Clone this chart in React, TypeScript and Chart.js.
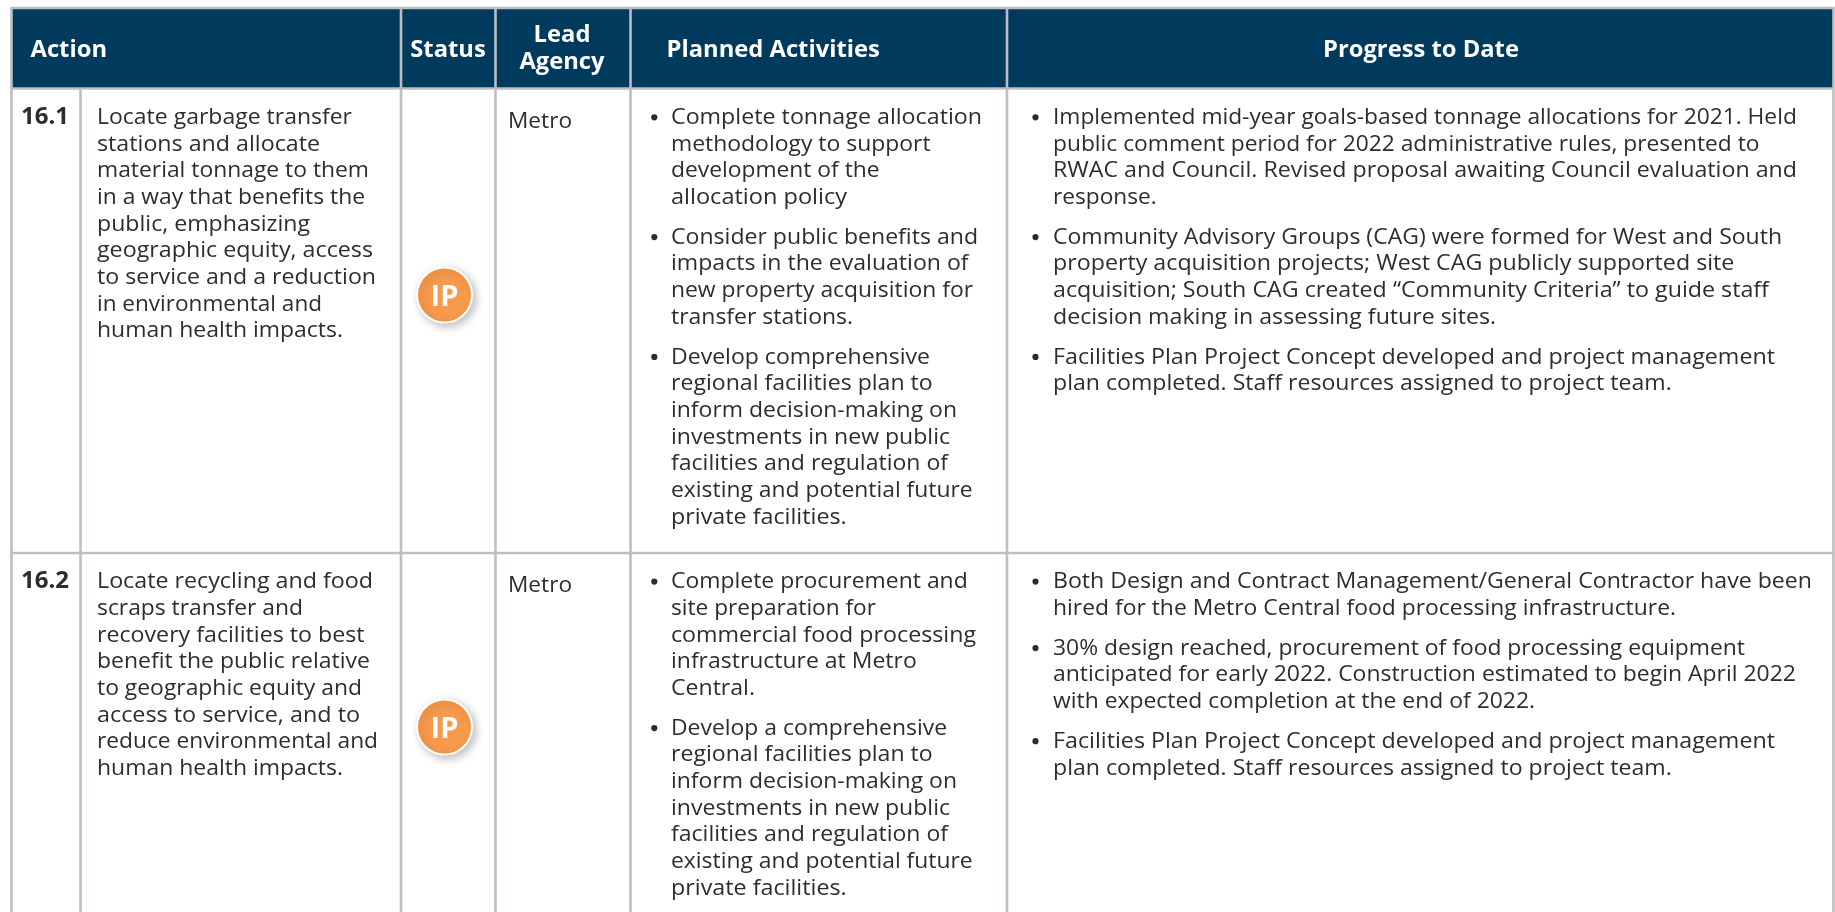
import React, { useEffect, useRef } from "react";
import { Chart, registerables } from "chart.js";

Chart.register(...registerables);

// ---- content ----
const headers = ["Action", "Status", "Lead|Agency", "Planned Activities", "Progress to Date"];
const actionIds = ["16.1", "16.2"];
const statuses = ["IP", "IP"];
const leadAgencies = ["Metro", "Metro"];
const actionTexts = [
  ["Locate garbage transfer", "stations and allocate", "material tonnage to them", "in a way that benefits the", "public, emphasizing", "geographic equity, access", "to service and a reduction", "in environmental and", "human health impacts."],
  ["Locate recycling and food", "scraps transfer and", "recovery facilities to best", "benefit the public relative", "to geographic equity and", "access to service, and to", "reduce environmental and", "human health impacts."],
];
const plannedActivities = [
  [
    ["Complete tonnage allocation", "methodology to support", "development of the", "allocation policy"],
    ["Consider public benefits and", "impacts in the evaluation of", "new property acquisition for", "transfer stations."],
    ["Develop comprehensive", "regional facilities plan to", "inform decision-making on", "investments in new public", "facilities and regulation of", "existing and potential future", "private facilities."],
  ],
  [
    ["Complete procurement and", "site preparation for", "commercial food processing", "infrastructure at Metro", "Central."],
    ["Develop a comprehensive", "regional facilities plan to", "inform decision-making on", "investments in new public", "facilities and regulation of", "existing and potential future", "private facilities."],
  ],
];
const progressToDate = [
  [
    ["Implemented mid-year goals-based tonnage allocations for 2021. Held", "public comment period for 2022 administrative rules, presented to", "RWAC and Council. Revised proposal awaiting Council evaluation and", "response."],
    ["Community Advisory Groups (CAG) were formed for West and South", "property acquisition projects; West CAG publicly supported site", "acquisition; South CAG created “Community Criteria” to guide staff", "decision making in assessing future sites."],
    ["Facilities Plan Project Concept developed and project management", "plan completed. Staff resources assigned to project team."],
  ],
  [
    ["Both Design and Contract Management/General Contractor have been", "hired for the Metro Central food processing infrastructure."],
    ["30% design reached, procurement of food processing equipment", "anticipated for early 2022. Construction estimated to begin April 2022", "with expected completion at the end of 2022."],
    ["Facilities Plan Project Concept developed and project management", "plan completed. Staff resources assigned to project team."],
  ],
];

// ---- layout and style ----
const W = 1835;
const H = 912;
const COL = { left: 11.5, id: 80.5, status: 401, lead: 495.5, planned: 630.5, progress: 1007, right: 1833.5 };
const TOP = 8;
const HEAD_BOTTOM = 88.5;
const ROW_LINES = [553];
const ROW_TEXT_TOPS = [124, 588.3];
const STATUS_X = 444.5;
const STATUS_YS = [295, 727];
const PITCH = 26.67;
const PARA_GAP = 39.8;
const RULE = "#bcbec2";
const NAVY = "#003a5d";
const ORANGE = "#f89a4b";
const INK = "#2e2d2e";
const BODY_FONT = '22.5px "Open Sans"';
const HEAD_FONT = 'bold 24px "Open Sans"';
const HEAD_SX = 0.99;
// right-hand ends of the text lines, used to fit the substitute font's line lengths
const ACTION_ENDS = [
  [352, 320, 369, 365, 310, 373, 376, 322, 343],
  [373, 303, 364.5, 370, 362, 360, 378, 343],
];
const PLANNED_ENDS = [
  [[982, 930.6, 879.6, 847], [978, 968.6, 973, 853], [930, 932.7, 957, 950, 948, 972.7, 846.7]],
  [[967.7, 876, 976, 916.7, 755], [947, 932.7, 957, 950, 948, 972.7, 846.7]],
];
const PROGRESS_ENDS = [
  [[1796.8, 1759.5, 1797, 1156.7], [1782, 1734.4, 1769, 1496], [1775, 1671.7]],
  [[1812, 1676], [1745, 1796, 1535], [1775, 1671.7]],
];

const tablePlugin = {
  id: "table",
  beforeDatasetsDraw(chart: any) {
    const { ctx, scales } = chart;
    const X = (v: number) => scales.x.getPixelForValue(v);
    const Y = (v: number) => scales.y.getPixelForValue(v);
    ctx.save();
    ctx.fillStyle = "#ffffff";
    ctx.fillRect(0, 0, W, H);
    ctx.fillStyle = NAVY;
    ctx.fillRect(X(COL.left), Y(TOP), X(COL.right) - X(COL.left), Y(HEAD_BOTTOM) - Y(TOP));
    ctx.strokeStyle = RULE;
    ctx.lineWidth = 2.6;
    const line = (x1: number, y1: number, x2: number, y2: number) => {
      ctx.beginPath();
      ctx.moveTo(X(x1), Y(y1));
      ctx.lineTo(X(x2), Y(y2));
      ctx.stroke();
    };
    line(COL.left - 1.3, TOP, COL.right + 1.3, TOP);
    line(COL.left, HEAD_BOTTOM, COL.right, HEAD_BOTTOM);
    ROW_LINES.forEach((y) => line(COL.left, y, COL.right, y));
    [COL.left, COL.status, COL.lead, COL.planned, COL.progress, COL.right].forEach((x) => line(x, TOP, x, H));
    line(COL.id, HEAD_BOTTOM, COL.id, H);

    const text = (s: string, x: number, y: number, sx: number, align: "left" | "center" = "left") => {
      ctx.save();
      ctx.translate(X(x), Y(y));
      ctx.scale(sx, 1);
      ctx.textAlign = align;
      ctx.textBaseline = "alphabetic";
      ctx.fillText(s, 0, 0);
      ctx.restore();
    };
    const fitted = (s: string, x: number, end: number, y: number) => {
      text(s, x, y, (end - x) / ctx.measureText(s).width);
    };

    // header row
    ctx.fillStyle = "#ffffff";
    ctx.font = HEAD_FONT;
    const [hAction, hStatus, hLead, hPlanned, hProgress] = headers;
    text(hAction, 30.5, 57, HEAD_SX);
    text(hStatus, 448, 57, HEAD_SX, "center");
    const [l1, l2] = hLead.split("|");
    text(l1, 562, 42, HEAD_SX, "center");
    text(l2, 562, 69, HEAD_SX, "center");
    text(hPlanned, 666.5, 57, HEAD_SX);
    text(hProgress, 1421, 57, HEAD_SX, "center");

    // body rows
    ctx.fillStyle = INK;
    actionIds.forEach((id, r) => {
      const top = ROW_TEXT_TOPS[r];
      ctx.font = 'bold 24px "Open Sans"';
      text(id, 21, top, 1);
      ctx.font = BODY_FONT;
      actionTexts[r].forEach((s, i) => fitted(s, 97, ACTION_ENDS[r][i], top + i * PITCH));
      fitted(leadAgencies[r], 508, 572, top + 4);
      const bullets = (paras: string[][], ends: number[][], bx: number, tx: number) => {
        let y = top;
        paras.forEach((p, k) => {
          ctx.beginPath();
          ctx.arc(X(bx), Y(y - 6.7), 3.1, 0, Math.PI * 2);
          ctx.fill();
          p.forEach((s, i) => fitted(s, tx, ends[k][i], y + i * PITCH));
          y += (p.length - 1) * PITCH + PARA_GAP;
        });
      };
      bullets(plannedActivities[r], PLANNED_ENDS[r], 654.3, 671);
      bullets(progressToDate[r], PROGRESS_ENDS[r], 1035.5, 1053);
    });
    ctx.restore();
  },
  beforeDatasetDraw(chart: any) {
    const { ctx } = chart;
    ctx.save();
    ctx.shadowColor = "rgba(0,0,0,0.25)";
    ctx.shadowBlur = 8;
    ctx.shadowOffsetX = 3;
    ctx.shadowOffsetY = 3;
  },
  afterDatasetDraw(chart: any) {
    chart.ctx.restore();
  },
  afterDatasetsDraw(chart: any) {
    const { ctx } = chart;
    const meta = chart.getDatasetMeta(0);
    ctx.save();
    ctx.fillStyle = "#ffffff";
    ctx.font = 'bold 29px "Open Sans"';
    ctx.textAlign = "center";
    ctx.textBaseline = "alphabetic";
    meta.data.forEach((pt: any, i: number) => {
      ctx.fillText(statuses[i], pt.x, pt.y + 10.5);
    });
    ctx.restore();
  },
};

export default function App() {
  const ref = useRef<HTMLCanvasElement>(null);
  useEffect(() => {
    const chart = new Chart(ref.current as HTMLCanvasElement, {
      type: "scatter",
      data: {
        datasets: [
          {
            label: "Status",
            data: statuses.map((_, i) => ({ x: STATUS_X, y: STATUS_YS[i] })),
            pointStyle: "circle",
            pointRadius: 27.5,
            pointBackgroundColor: ORANGE,
            pointBorderColor: "#ffffff",
            pointBorderWidth: 2,
          },
        ],
      },
      options: {
        animation: false,
        responsive: false,
        layout: { padding: 0, autoPadding: false },
        events: [],
        plugins: { legend: { display: false }, tooltip: { enabled: false }, title: { display: false } },
        scales: {
          x: { type: "linear", min: 0, max: W, display: false },
          y: { type: "linear", min: 0, max: H, reverse: true, display: false },
        },
      },
      plugins: [tablePlugin],
    } as any);
    return () => chart.destroy();
  }, []);
  return (
    <div style={{ position: "fixed", left: 0, top: 0, width: W, height: H, background: "#fff" }}>
      <canvas ref={ref} width={W} height={H} style={{ display: "block", width: W, height: H }} />
    </div>
  );
}
